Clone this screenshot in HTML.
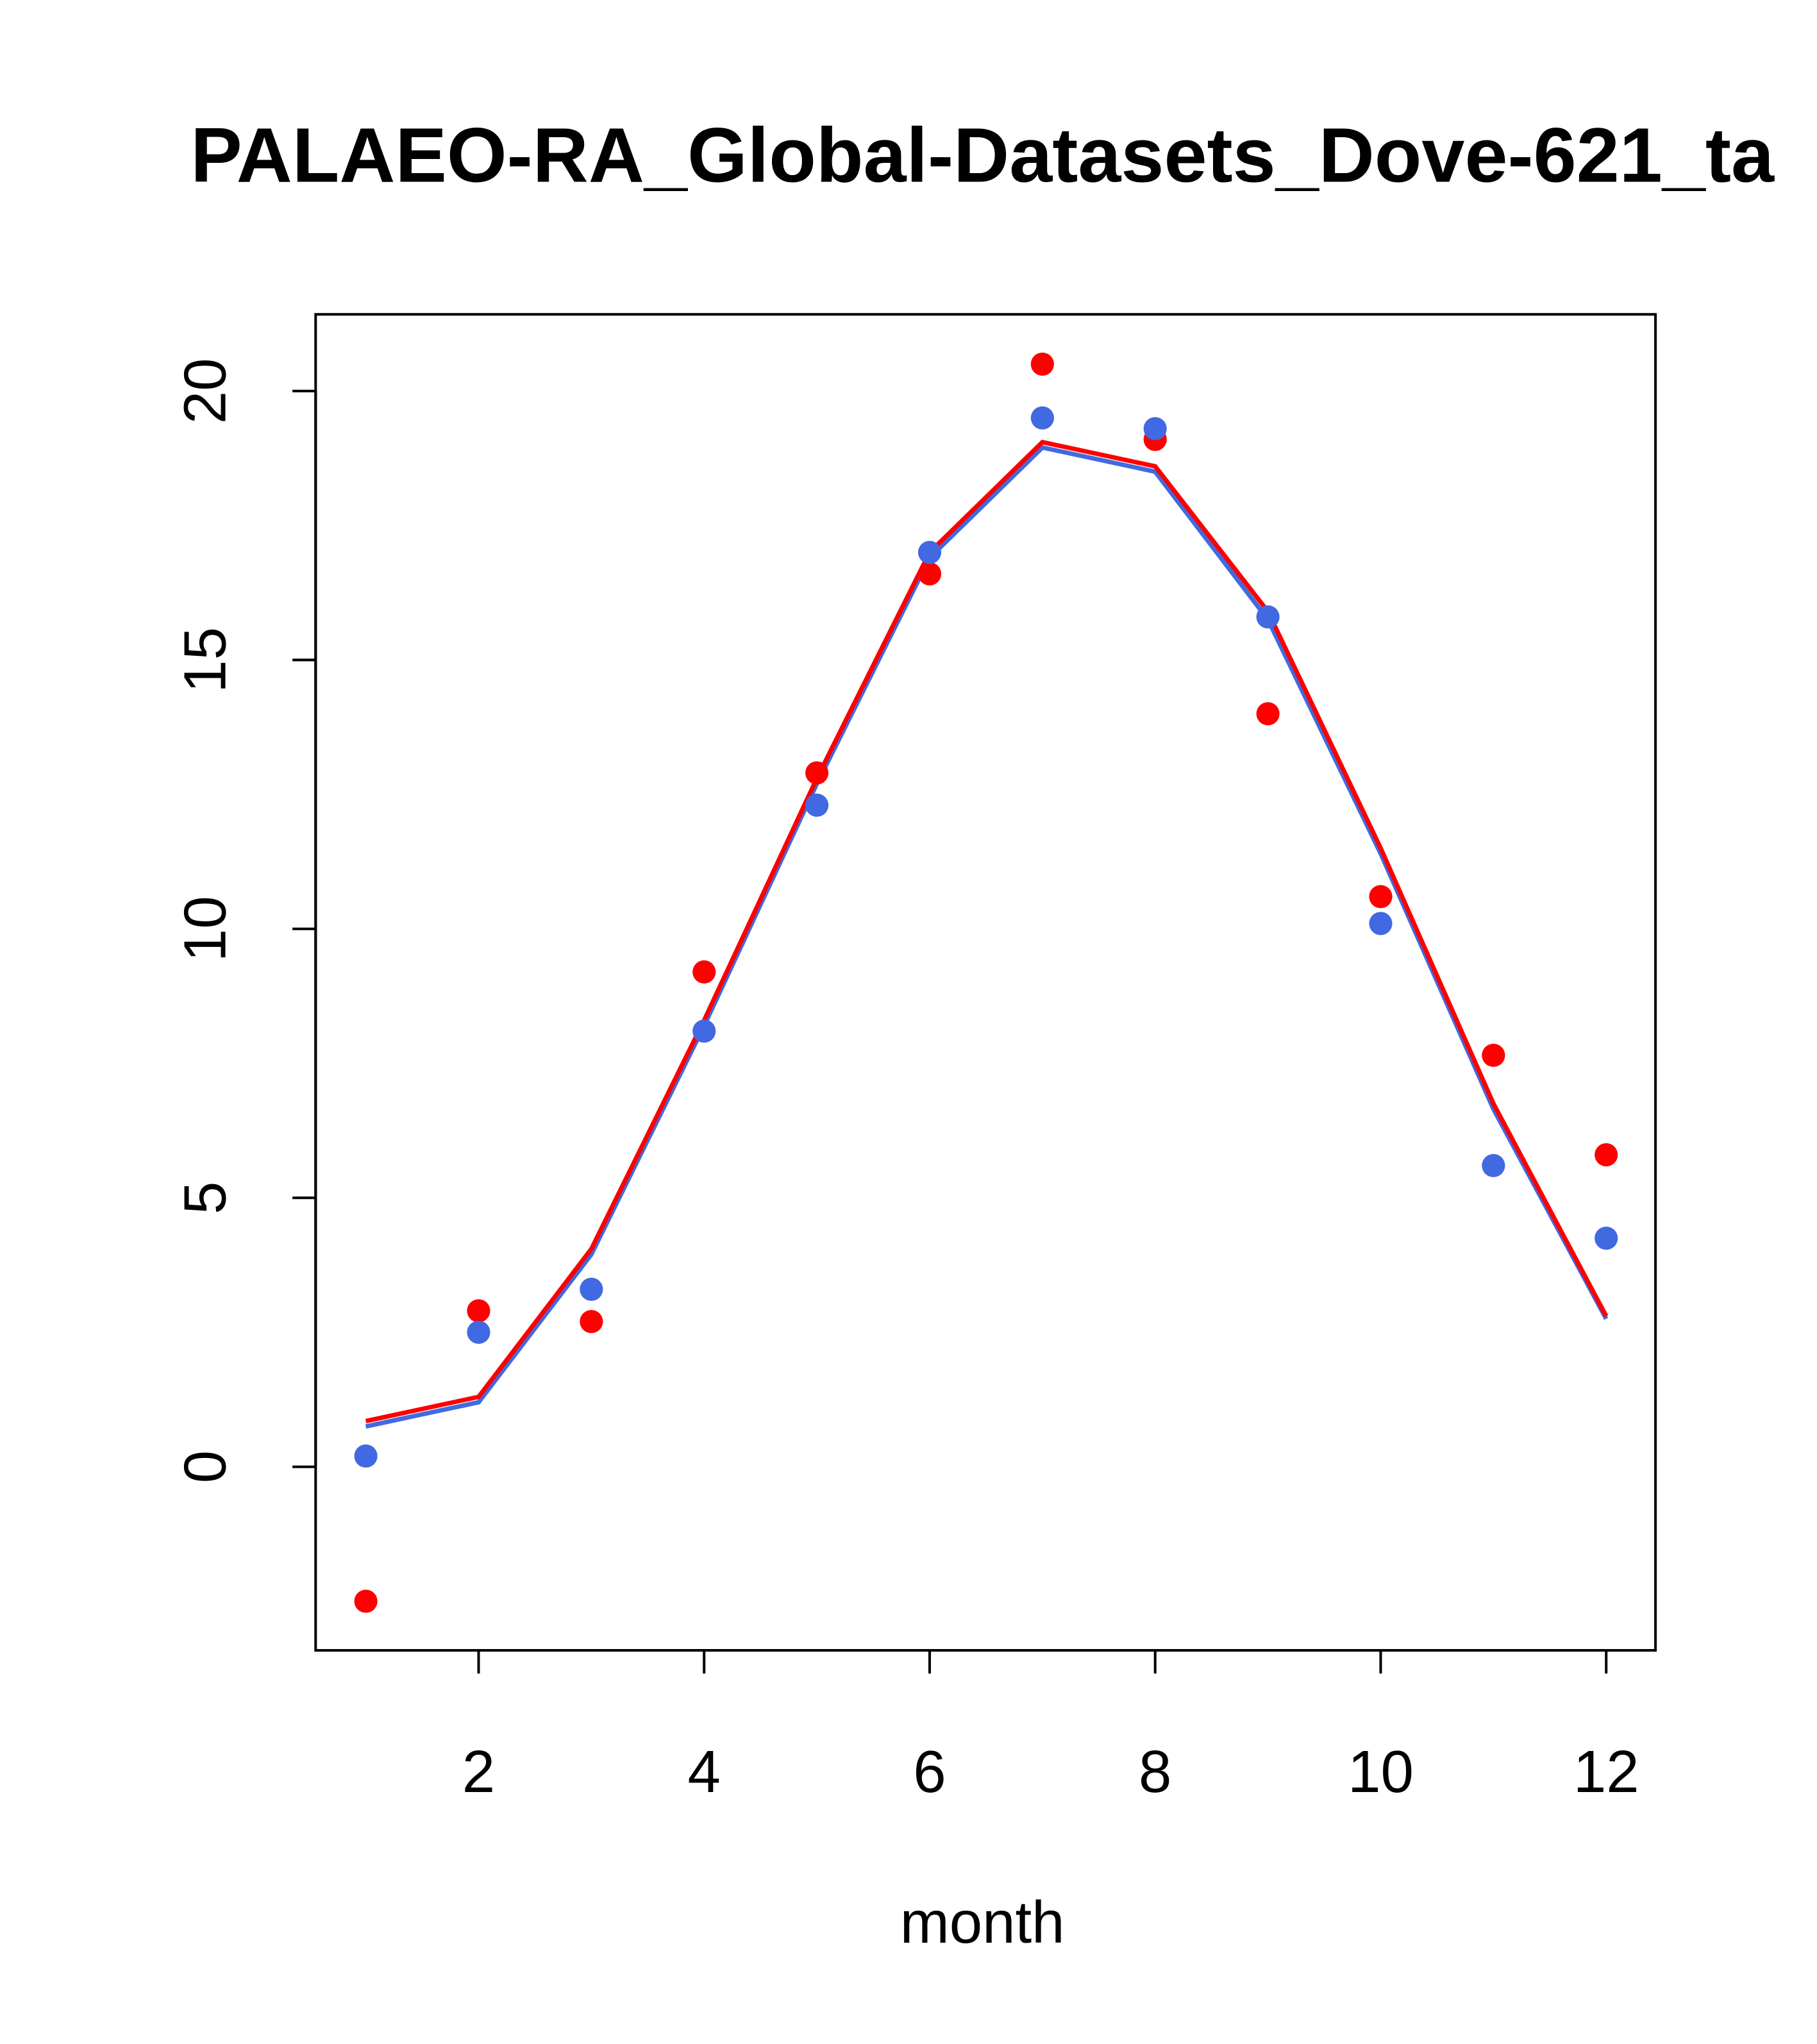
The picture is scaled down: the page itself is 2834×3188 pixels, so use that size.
<!DOCTYPE html>
<html><head><meta charset="utf-8"><style>
html,body{margin:0;padding:0;background:#fff;}
svg{display:block;font-family:"Liberation Sans",sans-serif;}
</style></head><body>
<svg id="chart" width="2834" height="3188" viewBox="0 0 2834 3188" xmlns="http://www.w3.org/2000/svg">
<rect width="2834" height="3188" fill="#fff"/>
<g transform="scale(1.0047)">
<text x="1525" y="282" font-size="120" font-weight="bold" text-anchor="middle">PALAEO-RA_Global-Datasets_Dove-621_ta</text>
<rect x="490" y="488" width="2080" height="2074" fill="none" stroke="#000" stroke-width="4"/>
<g id="xaxis"></g>
<g id="yaxis"></g>
<g id="series"></g>
<text x="1525" y="3016" font-size="92" text-anchor="middle">month</text>
</g>
</svg>
<script>
const months=[1,2,3,4,5,6,7,8,9,10,11,12];
const redPoints=[-2.5,2.9,2.7,9.2,12.9,16.6,20.5,19.1,14.0,10.6,7.65,5.8];
const bluePoints=[0.2,2.5,3.3,8.1,12.3,17.0,19.5,19.3,15.8,10.1,5.6,4.25];
const redLine=[0.85,1.3,4.05,8.3,12.8,17.0,19.05,18.6,15.9,11.5,6.75,2.8];
const blueLine=[0.75,1.2,3.95,8.2,12.7,16.9,18.95,18.5,15.75,11.4,6.65,2.75];
const xTicks=[2,4,6,8,10,12];
const yTicks=[0,5,10,15,20];
const NS="http://www.w3.org/2000/svg";
function xs(m){return 743+(m-2)*175.05;}
function ys(v){return 2277-v*83.5;}
function mk(tag,attrs,parent){const e=document.createElementNS(NS,tag);for(const k in attrs)e.setAttribute(k,attrs[k]);parent.appendChild(e);return e;}
const xa=document.getElementById('xaxis'),ya=document.getElementById('yaxis'),sr=document.getElementById('series');
let l=mk('line',{x1:xs(2),x2:xs(12),y1:2562,y2:2562,stroke:'#000','stroke-width':4},xa);


xTicks.forEach(t=>{
 const tk=mk('line',{x1:xs(t),x2:xs(t),y1:2562,y2:2598,stroke:'#000','stroke-width':4},xa);
 
 
 const tx=mk('text',{x:xs(t),y:2782,'font-size':92,'text-anchor':'middle'},xa);
 tx.textContent=t;
 
 
});
l=mk('line',{x1:490,x2:490,y1:ys(0),y2:ys(20),stroke:'#000','stroke-width':4},ya);


yTicks.forEach(t=>{
 const tk=mk('line',{x1:454,x2:490,y1:ys(t),y2:ys(t),stroke:'#000','stroke-width':4},ya);
 
 
 const tx=mk('text',{x:0,y:0,'font-size':92,'text-anchor':'middle',transform:`translate(350,${ys(t)}) rotate(-90)`},ya);
 tx.textContent=t;
 
 
});
function line(vals,col,name){
 const p=mk('polyline',{points:vals.map((v,i)=>xs(months[i])+','+ys(v)).join(' '),fill:'none',stroke:col,'stroke-width':7},sr);
 
 
}
function pts(vals,col,name){
 vals.forEach((v,i)=>{
  const c=mk('circle',{cx:xs(months[i]),cy:ys(v),r:18,fill:col},sr);
  
  
 });
}
line(blueLine,'#4169E1','blue-line');
line(redLine,'#FF0000','red-line');
pts(redPoints,'#FF0000','red-point');
pts(bluePoints,'#4169E1','blue-point');
</script>
</body></html>
